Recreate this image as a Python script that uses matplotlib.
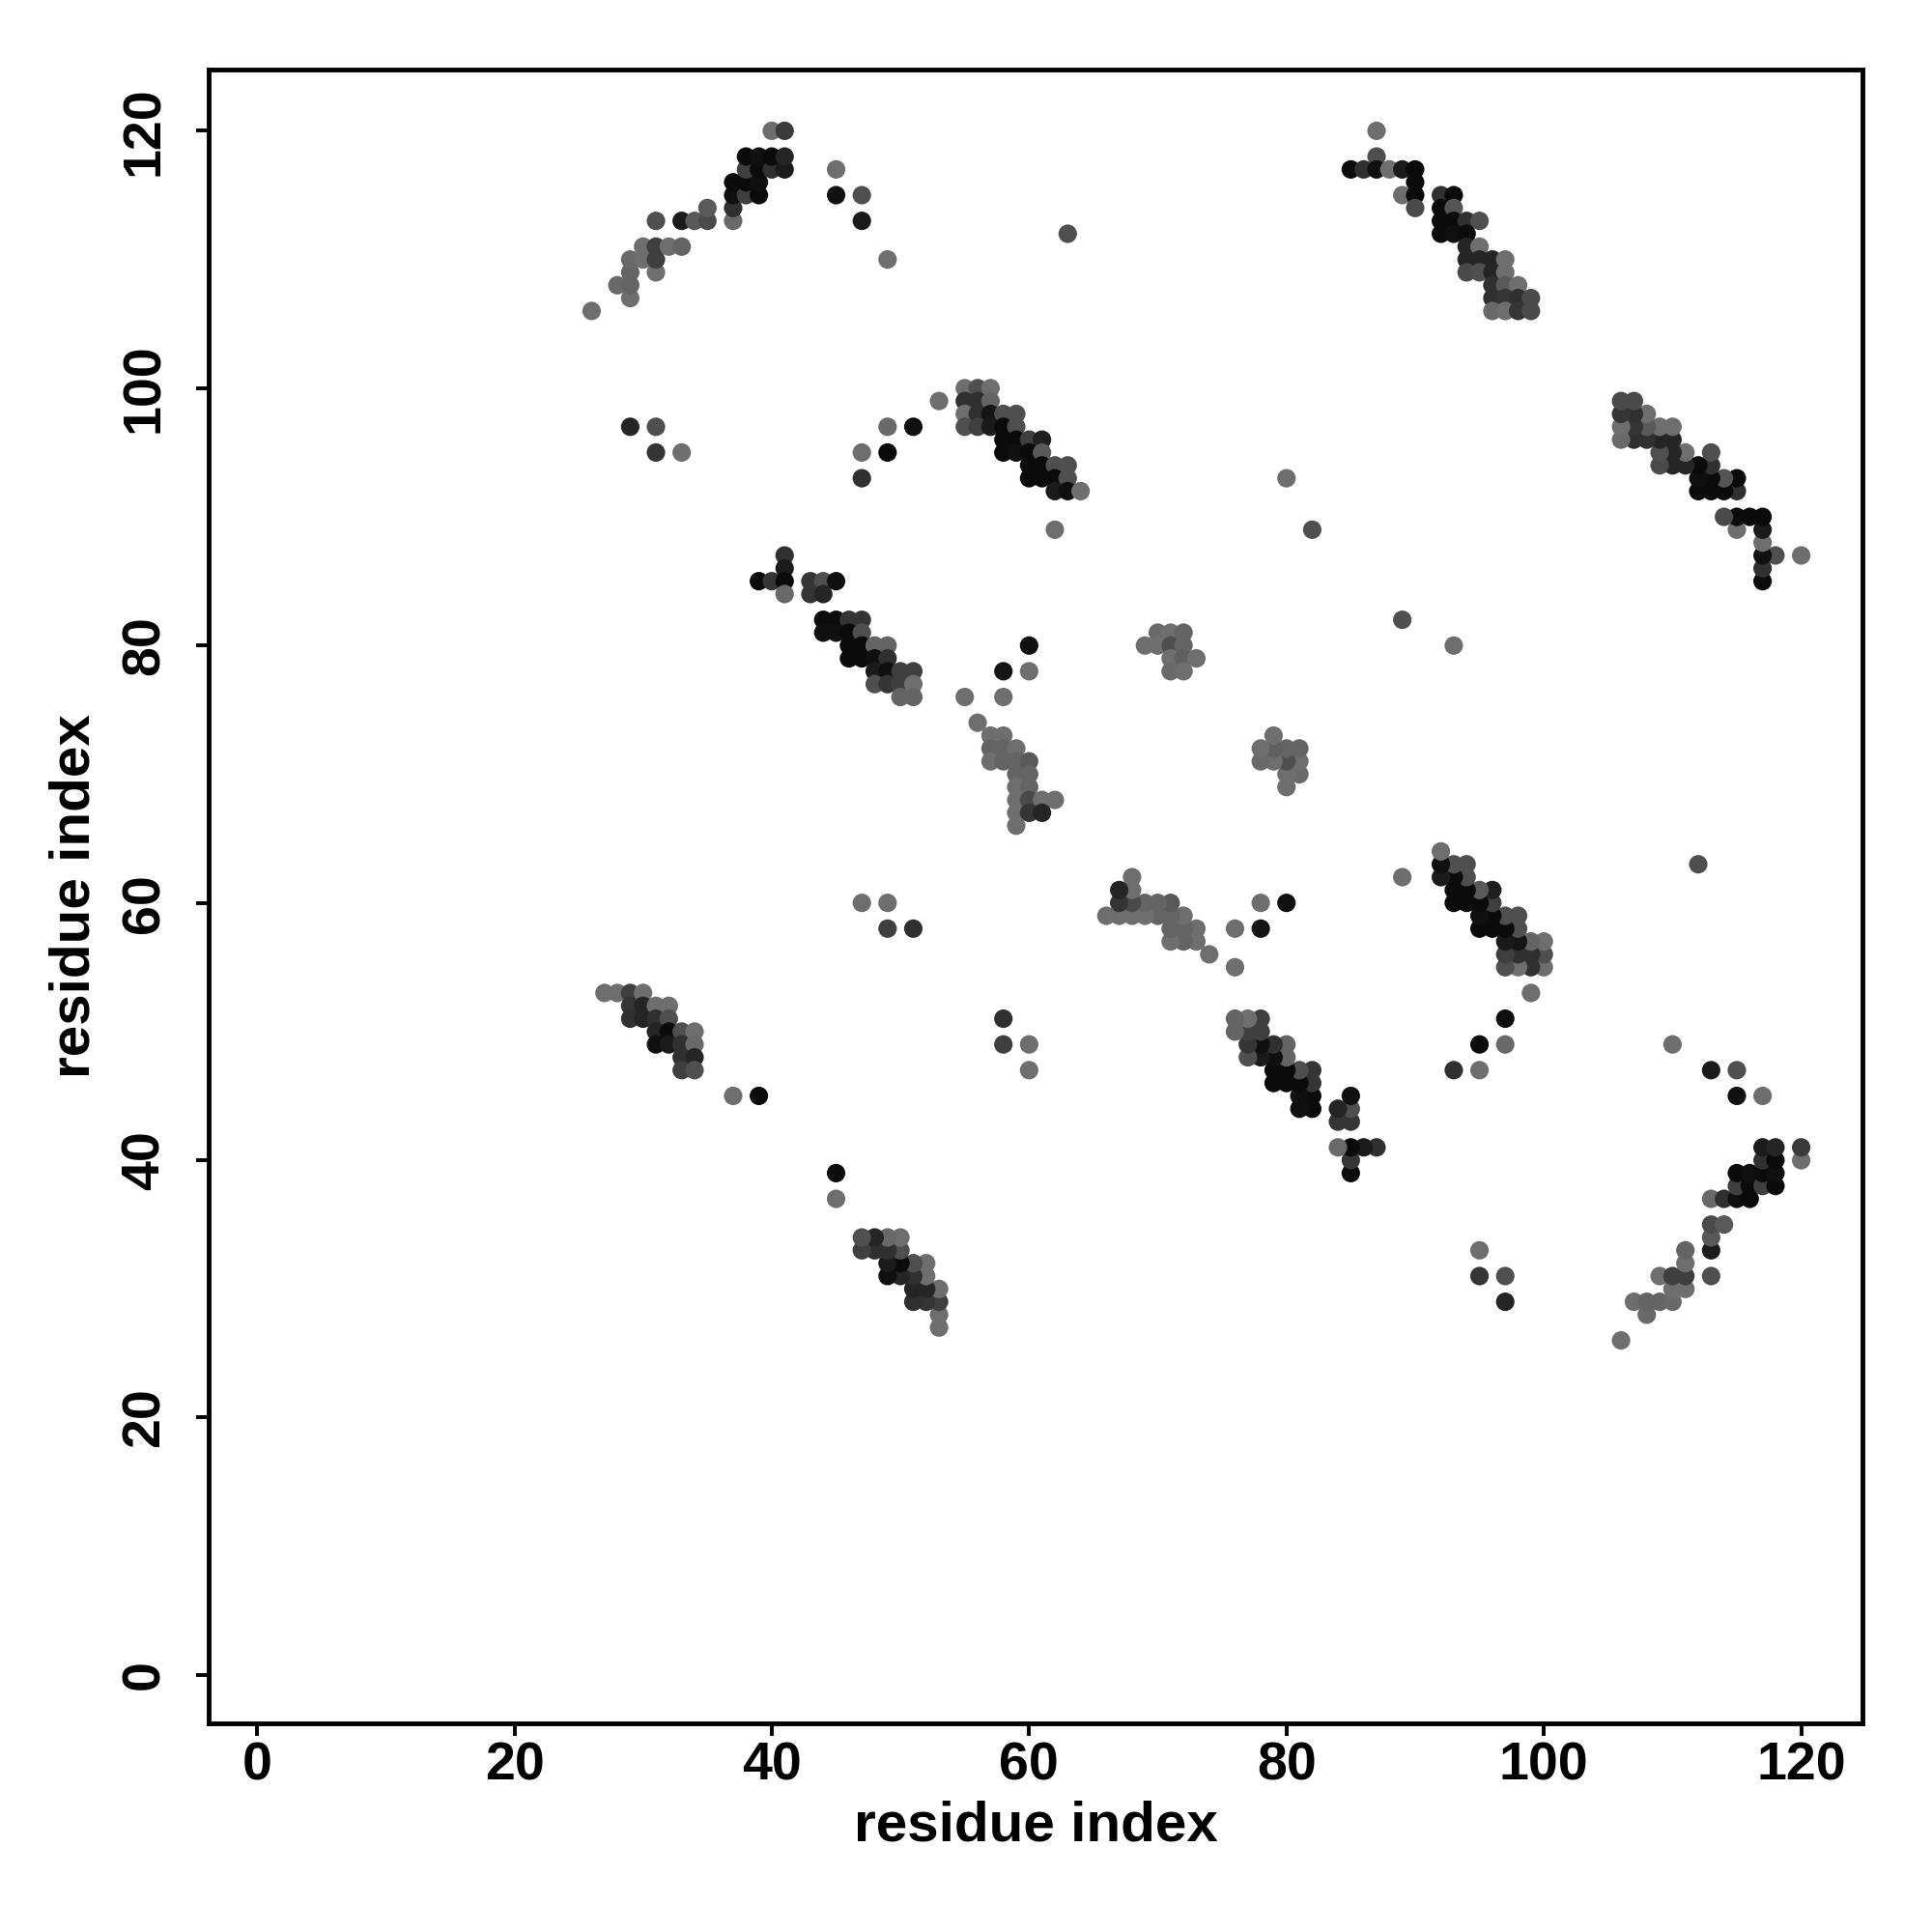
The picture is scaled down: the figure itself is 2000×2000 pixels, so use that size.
import matplotlib
matplotlib.use("Agg")
import matplotlib.pyplot as plt
from matplotlib.colors import LinearSegmentedColormap
import numpy as np

# contacts read from the upper triangle (res_j > res_i); the map is symmetric
res_i = [26, 29, 28, 29, 29, 31, 29, 30, 31,
         30, 31, 32, 33, 31, 33, 34, 35, 37,
         35, 37, 37, 38, 39, 37, 38, 39,
         38, 39, 40, 41, 38, 39, 40, 41, 40, 41,
         45, 45, 47, 47, 49, 63,
         29, 31, 31, 33, 47, 49, 49, 51, 47,
         53, 55, 56, 57, 55, 56, 57,
         55, 56, 57, 58, 59, 55, 56, 57, 58, 59,
         58, 59, 60, 61, 58, 59, 60, 61,
         60, 61, 62, 63, 60, 61, 62, 63, 62, 63, 64, 62,
         87, 87, 85, 86, 87, 88, 89, 90, 90,
         89, 90, 92, 93, 90, 92, 93,
         92, 93, 94, 95, 92, 93, 94, 94, 95,
         94, 95, 96, 97, 94, 95, 96, 97,
         96, 97, 98, 96, 97, 98, 99, 96, 97, 98, 99,
         80, 82,
         41, 41, 39, 40, 41, 43, 44, 45, 41, 43, 44,
         44, 45, 46, 47, 44, 45, 46, 47,
         46, 47, 48, 49, 46, 47, 48, 49,
         48, 49, 50, 51, 48, 49, 50, 51, 50, 51,
         60, 58, 60, 55, 58, 56,
         57, 58, 57, 58, 59, 57, 58, 59, 60,
         59, 60, 59, 60, 59, 60, 61, 62, 59, 60, 61, 59,
         70, 71, 72, 69, 70, 71, 72, 71, 72, 73, 71, 72,
         47, 49, 49, 51,
         27, 28, 29, 30, 29, 30, 31, 32,
         29, 30, 31, 32, 31, 32, 33, 34,
         31, 32, 33, 34, 33, 34, 33, 34, 37, 39]

res_j = [106, 107, 108, 108, 109, 109, 110, 110, 110,
         111, 111, 111, 111, 113, 113, 113, 113, 113,
         114, 114, 115, 115, 115, 116, 116, 116,
         117, 117, 117, 117, 118, 118, 118, 118, 120, 120,
         117, 115, 115, 113, 110, 112,
         97, 97, 95, 95, 95, 95, 97, 97, 93,
         99, 100, 100, 100, 99, 99, 99,
         98, 98, 98, 98, 98, 97, 97, 97, 97, 97,
         96, 96, 96, 96, 95, 95, 95, 95,
         94, 94, 94, 94, 93, 93, 93, 93, 92, 92, 92, 89,
         120, 118, 117, 117, 117, 117, 117, 117, 116,
         115, 115, 115, 115, 114, 114, 114,
         113, 113, 113, 113, 112, 112, 112, 111, 111,
         110, 110, 110, 110, 109, 109, 109, 109,
         108, 108, 108, 107, 107, 107, 107, 106, 106, 106, 106,
         93, 89,
         87, 86, 85, 85, 85, 85, 85, 85, 84, 84, 84,
         82, 82, 82, 82, 81, 81, 81, 81,
         80, 80, 80, 80, 79, 79, 79, 79,
         78, 78, 78, 78, 77, 77, 77, 77, 76, 76,
         80, 78, 78, 76, 76, 74,
         73, 73, 72, 72, 72, 71, 71, 71, 71,
         70, 70, 69, 69, 68, 68, 68, 68, 67, 67, 67, 66,
         81, 81, 81, 80, 80, 80, 80, 79, 79, 79, 78, 78,
         60, 60, 58, 58,
         53, 53, 53, 53, 52, 52, 52, 52,
         51, 51, 51, 51, 50, 50, 50, 50,
         49, 49, 49, 49, 48, 48, 47, 47, 45, 45]

# contact strength, 0 = weak (light grey), 1 = strong (black)
score = [0, 0, .05, .1, .1, 0, .05, 0, .45,
         0, .45, 0, .1, .3, .8, .2, .35, .05,
         .2, .6, .9, .45, .95, .95, .95, .9,
         .45, .95, .6, .8, .95, .9, .95, .7, 0, .5,
         0, .9, .3, .8, 0, .3,
         .7, .3, .55, 0, 0, .95, .05, .9, .6,
         0, 0, .3, 0, .6, .6, .1,
         0, .6, .85, .3, .3, .3, .45, .8, .95, .3,
         .95, .95, .45, .75, .95, .9, .95, .2,
         .95, .95, .3, .3, .95, .95, .95, .3, .8, .9, 0, 0,
         0, .3, .95, .6, .9, 0, .8, .95, .95,
         0, .95, .6, .95, .35, .95, .25,
         .95, .95, .6, .3, .95, .9, .95, .7, 0,
         .7, .7, .7, 0, .35, .3, .7, 0,
         .6, .2, 0, .6, .55, .6, .35, .05, 0, .55, .35,
         0, .3,
         .6, .8, .95, .55, .95, .55, .3, .9, .05, .55, .7,
         .95, .95, .55, .55, .9, .9, .95, .3,
         .95, .95, .1, .1, .95, .95, .9, .6,
         .8, .9, .45, .45, .3, .55, .45, 0, .1, .1,
         .9, .85, 0, 0, 0, 0,
         0, 0, .1, .1, 0, 0, .1, .1, .2,
         .1, .1, 0, .1, 0, .35, 0, 0, 0, .55, .7, 0,
         .05, 0, .1, 0, 0, .3, .1, 0, .15, 0, .05, 0,
         0, 0, .45, .6,
         0, 0, .45, 0, .55, .7, 0, 0,
         .6, .7, .6, .3, .7, .95, .3, 0,
         .9, .8, .6, .05, .6, .7, .45, .3, 0, .95]

ticks = [0, 20, 40, 60, 80, 100, 120]

# mirror to get the full symmetric map
xs = np.concatenate([res_i, res_j])
ys = np.concatenate([res_j, res_i])
cs = np.concatenate([score, score])

greys = LinearSegmentedColormap.from_list("greys", ["#6e6e6e", "#060606"])

plt.rcParams['font.family'] = ['Liberation Sans', 'DejaVu Sans']
plt.rcParams['font.weight'] = 'bold'

fig = plt.figure(figsize=(20, 20), dpi=100)
ax = fig.add_axes([0.108, 0.108, 0.856, 0.856])

ax.scatter(xs, ys, c=cs, cmap=greys, vmin=0, vmax=1, s=190,
           edgecolors='none')

ax.set_xlim(-3.76, 124.76)
ax.set_ylim(-3.76, 124.76)
ax.set_xticks(ticks)
ax.set_yticks(ticks)

for sp in ax.spines.values():
    sp.set_linewidth(3.5)

ax.tick_params(axis='both', length=9.5, width=2.8, labelsize=40)
ax.tick_params(axis='x', pad=4)
ax.tick_params(axis='y', pad=19)
for lab in ax.get_yticklabels():
    lab.set_rotation(90)
    lab.set_va('center')

ax.set_xlabel("residue index", fontsize=42, fontweight='bold')
ax.set_ylabel("residue index", fontsize=42, fontweight='bold')
ax.xaxis.set_label_coords(0.5, -0.0625)
ax.yaxis.set_label_coords(-0.081, 0.5)
ax.xaxis.label.set_va('center')
ax.yaxis.label.set_va('center')

fig.savefig("out.png", dpi=100, facecolor='white')
